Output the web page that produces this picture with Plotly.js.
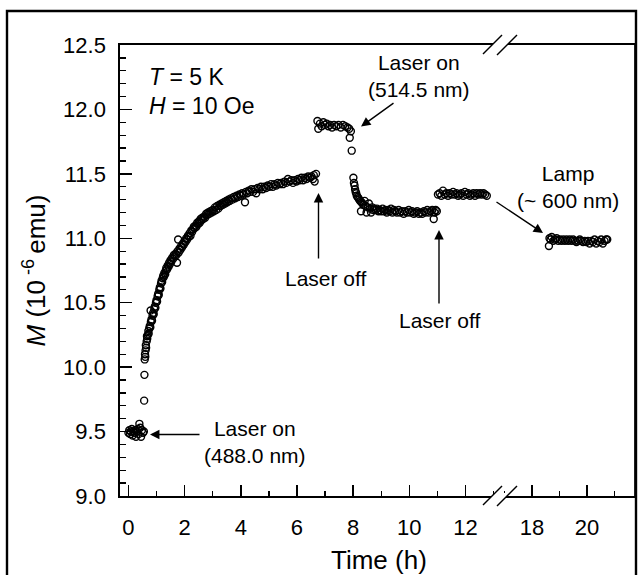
<!DOCTYPE html>
<html>
<head>
<meta charset="utf-8">
<script src="https://cdn.plot.ly/plotly-3.0.1.min.js"></script>
<style>html,body{margin:0;padding:0;background:#fff;}#chart{width:643px;height:575px;}</style>
</head>
<body>
<div id="chart"></div>
<script>
// ---- data (time in h, magnetization in 1e-6 emu) ----
const baseT = [0.00,0.03,0.06,0.09,0.12,0.15,0.18,0.21,0.24,0.27,0.30,0.33,0.36,0.39,0.42,0.45,0.48,0.52,0.55];
const baseM = [9.49,9.51,9.48,9.50,9.52,9.47,9.50,9.49,9.51,9.46,9.50,9.52,9.48,9.56,9.53,9.46,9.51,9.49,9.50];

const riseT = [0.56,0.57,0.58,0.59,0.60,0.61,0.62,0.63,0.65,0.66,0.67,0.69,0.71,0.72,0.74,0.76,0.78,0.79,0.80,0.82,
0.84,0.86,0.88,0.90,0.92,0.94,0.96,0.98,1.00,1.02,1.04,1.06,1.08,1.10,1.12,1.14,1.16,1.18,1.20,1.22,
1.24,1.26,1.28,1.31,1.33,1.35,1.38,1.40,1.43,1.45,1.48,1.50,1.53,1.56,1.59,1.62,1.65,1.68,1.71,1.73,
1.75,1.77,1.79,1.82,1.85,1.88,1.91,1.94,1.97,2.00,2.03,2.06,2.09,2.12,2.15,2.18,2.21,2.24,2.27,2.30,
2.33,2.36,2.39,2.42,2.45,2.48,2.51,2.54,2.57,2.60,2.63,2.66,2.70,2.73,2.77,2.80,2.84,2.88,2.92,2.96,
3.00,3.04,3.08,3.12,3.16,3.20,3.24,3.28,3.32,3.36,3.40,3.44,3.48,3.52,3.56,3.60,3.65,3.70,3.75,3.80,
3.85,3.90,3.95,4.00,4.05,4.10,4.15,4.18,4.23,4.28,4.33,4.38,4.44,4.50,4.55,4.60,4.66,4.72,4.78,4.84,
4.90,4.96,5.02,5.08,5.14,5.20,5.26,5.32,5.38,5.44,5.50,5.56,5.62,5.68,5.74,5.80,5.86,5.92,5.98,6.04,
6.10,6.16,6.22,6.28,6.34,6.40,6.46,6.52,6.57,6.60,6.63,6.68];
const riseM = [9.74,9.94,10.06,10.10,10.08,10.13,10.17,10.15,10.20,10.24,10.22,10.25,10.28,10.26,10.30,10.32,10.31,10.44,10.35,10.37,
10.36,10.40,10.42,10.41,10.45,10.47,10.46,10.50,10.52,10.51,10.55,10.57,10.56,10.60,10.62,10.61,10.65,10.67,10.66,10.69,
10.71,10.70,10.73,10.72,10.75,10.77,10.76,10.79,10.78,10.81,10.80,10.83,10.82,10.85,10.84,10.87,10.86,10.88,10.87,10.81,
10.90,10.99,10.89,10.92,10.91,10.94,10.93,10.96,10.95,10.98,10.97,11.00,10.99,11.02,11.01,11.04,11.02,11.06,11.05,11.07,
11.09,11.08,11.10,11.09,11.12,11.11,11.13,11.12,11.15,11.14,11.16,11.15,11.17,11.16,11.19,11.18,11.20,11.19,11.21,11.20,
11.22,11.21,11.24,11.22,11.25,11.23,11.26,11.25,11.27,11.26,11.28,11.27,11.29,11.28,11.30,11.29,11.31,11.30,11.32,11.31,
11.33,11.32,11.34,11.33,11.35,11.34,11.28,11.36,11.35,11.37,11.36,11.38,11.36,11.38,11.35,11.39,11.38,11.40,11.38,11.40,
11.39,11.41,11.40,11.42,11.40,11.42,11.41,11.43,11.42,11.43,11.42,11.44,11.43,11.46,11.44,11.45,11.43,11.45,11.44,11.46,
11.45,11.47,11.45,11.47,11.46,11.48,11.47,11.48,11.46,11.49,11.44,11.50];

const offT = [6.73,6.76,6.82,6.88,6.94,7.00,7.06,7.12,7.18,7.25,7.32,7.40,7.48,7.56,7.64,7.72,7.80,7.86,7.92,7.88,7.95];
const offM = [11.91,11.85,11.89,11.87,11.90,11.88,11.89,11.87,11.88,11.86,11.88,11.87,11.88,11.86,11.88,11.87,11.86,11.85,11.83,11.78,11.68];

const green = [8.01,8.03,8.05,8.07,8.09,8.11,8.13,8.16,8.19,8.22,8.25,8.28,8.30,8.33,8.37,8.41,8.44,8.48,8.52,8.56,
8.60,8.64,8.68,8.72,8.76,8.80,8.85,8.90,8.95,9.00,9.05,9.10,9.15,9.20,9.25,9.30,9.35,9.40,9.45,9.50,
9.56,9.62,9.68,9.74,9.80,9.86,9.92,9.98,10.04,10.10,10.16,10.22,10.28,10.34,10.40,10.46,10.52,10.58,10.64,10.70,
10.76,10.82,10.87,10.90,10.94,10.98];
const greenM = [11.47,11.43,11.41,11.38,11.36,11.35,11.33,11.32,11.31,11.30,11.29,11.21,11.28,11.27,11.26,11.29,11.25,11.20,11.24,11.27,
11.23,11.20,11.24,11.22,11.23,11.22,11.23,11.21,11.22,11.21,11.23,11.21,11.22,11.20,11.22,11.21,11.23,11.20,11.22,11.21,
11.20,11.22,11.20,11.21,11.19,11.21,11.20,11.22,11.20,11.21,11.19,11.20,11.21,11.19,11.20,11.19,11.21,11.20,11.22,11.20,
11.21,11.22,11.15,11.20,11.22,11.21];

const off2T = [11.02,11.08,11.14,11.20,11.26,11.32,11.38,11.44,11.50,11.56,11.62,11.68,11.74,11.80,11.86,11.92,11.98,12.04,12.10,12.16,
12.22,12.28,12.34,12.40,12.46,12.52,12.58,12.64,12.70,12.76];
const off2M = [11.34,11.35,11.33,11.37,11.34,11.35,11.33,11.35,11.34,11.36,11.34,11.35,11.33,11.34,11.35,11.33,11.36,11.34,11.35,11.33,
11.34,11.35,11.33,11.35,11.34,11.35,11.34,11.35,11.34,11.33];

const lampT = [18.62,18.64,18.68,18.72,18.78,18.84,18.90,18.96,19.02,19.08,19.14,19.20,19.26,19.32,19.38,19.44,19.50,19.56,19.62,19.68,
19.74,19.80,19.86,19.92,19.98,20.04,20.10,20.16,20.22,20.28,20.34,20.40,20.46,20.52,20.58,20.64,20.70,20.74];
const lampM = [10.94,11.00,10.99,11.01,10.98,10.99,11.00,10.98,10.99,10.98,10.99,10.98,10.99,10.98,10.99,10.98,10.99,10.98,10.97,10.98,
10.99,10.98,10.97,10.98,10.97,10.98,10.96,10.98,10.97,10.99,10.96,10.98,10.97,10.99,10.96,10.98,10.99,10.99];

const xTicksLeft = [0,2,4,6,8,10,12];
const xTicksRight = [18,20];

// ---- geometry ----
const W = 643, H = 575;
const M = {l:120, r:8, t:45, b:79};
const PW = W - M.l - M.r, PH = H - M.t - M.b;
const split = (500 - M.l) / PW;
const px = x => (x - M.l) / PW;
const py = y => (H - M.b - y) / PH;

const FONT = 'Arial, "Liberation Sans", Helvetica, sans-serif';
const mk = {symbol:'circle-open', size:7, color:'#000', line:{width:1.4, color:'#000'}};

function seg(x, y, xa) {
  return {x:x, y:y, type:'scatter', mode:'markers', marker:mk, xaxis:xa, yaxis:'y', showlegend:false, cliponaxis:false, hoverinfo:'skip'};
}
const data = [
  seg(baseT, baseM, 'x'), seg(riseT, riseM, 'x'), seg(offT, offM, 'x'),
  seg(green, greenM, 'x'), seg(off2T, off2M, 'x'), seg(lampT, lampM, 'x2')
];

const axCommon = {
  showline:true, linecolor:'#000', linewidth:1.7, mirror:true,
  ticks:'inside', tickcolor:'#000', tickwidth:1.5, ticklen:11,
  showgrid:false, zeroline:false,
  tickfont:{family:FONT, size:22, color:'#000'},
  minor:{ticks:'inside', dtick:1, ticklen:5, tickwidth:1.3, tickcolor:'#000', showgrid:false}
};

const arrow = {xref:'paper', yref:'paper', axref:'pixel', ayref:'pixel', text:'', showarrow:true, arrowhead:2, arrowsize:1.35, arrowwidth:1.4, arrowcolor:'#000'};

const layout = {
  width:W, height:H, margin:M,
  paper_bgcolor:'#fff', plot_bgcolor:'#fff',
  font:{family:FONT, color:'#000'},
  showlegend:false,
  xaxis:Object.assign({}, axCommon, {domain:[0, split], range:[-0.3, 13.23], tickvals:xTicksLeft, anchor:'y', ticklabelstandoff:11}),
  xaxis2:Object.assign({}, axCommon, {domain:[split, 1], range:[16.84, 21.75], tickvals:xTicksRight, anchor:'y', ticklabelstandoff:11}),
  yaxis:Object.assign({}, axCommon, {range:[9.0, 12.5], dtick:0.5, tick0:9, tickformat:'.1f', ticklen:12, mirror:false,
    minor:{ticks:'inside', dtick:0.1, ticklen:6, tickwidth:1.3, tickcolor:'#000', showgrid:false},
    ticklabelstandoff:8,
    title:{text:'<i>M</i> (10<sup> -6 </sup>emu)', font:{family:FONT, size:26, color:'#000'}, standoff:10}}),
  annotations:[
    {xref:'paper', yref:'paper', x:px(379), y:py(560), text:'Time (h)', showarrow:false, font:{size:26}, xanchor:'center', yanchor:'middle'},
    {xref:'paper', yref:'paper', x:px(147), y:py(77), text:'<i>T</i> = 5 K', showarrow:false, font:{size:23}, xanchor:'left', yanchor:'middle'},
    {xref:'paper', yref:'paper', x:px(147), y:py(106), text:'<i>H</i> = 10 Oe', showarrow:false, font:{size:23}, xanchor:'left', yanchor:'middle'},
    {xref:'paper', yref:'paper', x:px(418.5), y:py(76), text:'Laser on<br>(514.5 nm)', showarrow:false, font:{size:21}, xanchor:'center', yanchor:'middle'},
    {xref:'paper', yref:'paper', x:px(568), y:py(187), text:'Lamp<br>(~ 600 nm)', showarrow:false, font:{size:21}, xanchor:'center', yanchor:'middle'},
    {xref:'paper', yref:'paper', x:px(326), y:py(278), text:'Laser off', showarrow:false, font:{size:21}, xanchor:'center', yanchor:'middle'},
    {xref:'paper', yref:'paper', x:px(440), y:py(320), text:'Laser off', showarrow:false, font:{size:21}, xanchor:'center', yanchor:'middle'},
    {xref:'paper', yref:'paper', x:px(255), y:py(442), text:'Laser on<br>(488.0 nm)', showarrow:false, font:{size:21}, xanchor:'center', yanchor:'middle'},
    // arrows
    Object.assign({}, arrow, {x:px(150), y:py(434.5), ax:201-150, ay:0}),
    Object.assign({}, arrow, {x:px(318.5), y:py(193), ax:0, ay:260-193}),
    Object.assign({}, arrow, {x:px(361), y:py(126.5), ax:395-361, ay:102-126.5}),
    Object.assign({}, arrow, {x:px(439), y:py(230), ax:0, ay:305-230}),
    Object.assign({}, arrow, {x:px(543), y:py(233), ax:495-543, ay:201-233})
  ],
  shapes:[]
};

// outer frame (open at bottom) and right border of the plot
layout.shapes.push({type:'path', xref:'paper', yref:'paper',
  path:`M ${px(7)} ${py(580)} L ${px(7)} ${py(11)} L ${px(636)} ${py(11)} L ${px(636)} ${py(580)}`,
  line:{color:'#000', width:2.4}, layer:'above'});
layout.shapes.push({type:'line', xref:'paper', yref:'paper', x0:1, x1:1, y0:0, y1:1, line:{color:'#000', width:1.7}, layer:'above'});

// axis break marks "//" on top and bottom
[45, 496].forEach(yc => {
  const cx = 500;
  layout.shapes.push({type:'path', xref:'paper', yref:'paper',
    path:`M ${px(cx-11)} ${py(yc+3)} L ${px(cx+4)} ${py(yc+3)} L ${px(cx+10)} ${py(yc-3)} L ${px(cx-5)} ${py(yc-3)} Z`,
    fillcolor:'#fff', line:{width:0}, layer:'above'});
  layout.shapes.push({type:'line', xref:'paper', yref:'paper', x0:px(cx-17), y0:py(yc+9), x1:px(cx+2), y1:py(yc-10), line:{color:'#000', width:1.5}, layer:'above'});
  layout.shapes.push({type:'line', xref:'paper', yref:'paper', x0:px(cx-3), y0:py(yc+10), x1:px(cx+17), y1:py(yc-10), line:{color:'#000', width:1.5}, layer:'above'});
});

Plotly.newPlot('chart', data, layout, {staticPlot:true, displayModeBar:false});
</script>
</body>
</html>
